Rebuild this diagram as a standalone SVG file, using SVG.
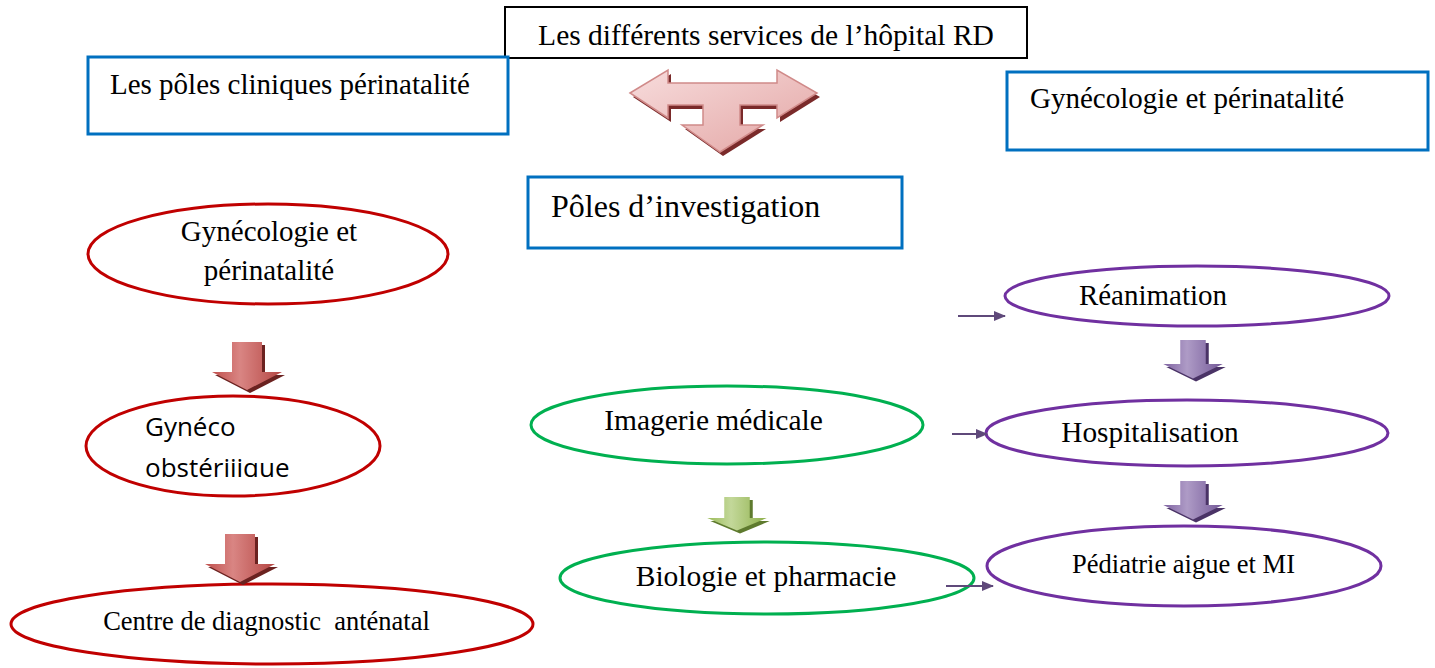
<svg xmlns="http://www.w3.org/2000/svg" width="1435" height="668" viewBox="0 0 1435 668">
<style>
.t{font-family:"Liberation Serif","Times New Roman",serif;fill:#000}
.s{font-family:"Open Sans","Liberation Sans",sans-serif;fill:#000}
.bb{fill:#fff;stroke:#0070C0;stroke-width:3}
.re{fill:#fff;stroke:#C00000;stroke-width:3}
.ge{fill:#fff;stroke:#00B050;stroke-width:3}
.pe{fill:#fff;stroke:#7030A0;stroke-width:3}
.sm{stroke:#5F497A;stroke-width:2;fill:none}
</style>
<defs>
<linearGradient id="gp" x1="0" y1="0" x2="1" y2="1"><stop offset="0" stop-color="#F7DCDC"/><stop offset="1" stop-color="#E3A5A4"/></linearGradient>
<linearGradient id="gr" x1="0" y1="0" x2="1" y2="0"><stop offset="0" stop-color="#C0504D"/><stop offset="0.4" stop-color="#D98583"/><stop offset="1" stop-color="#B54643"/></linearGradient>
<linearGradient id="gg" x1="0" y1="0" x2="1" y2="0"><stop offset="0" stop-color="#9BBB59"/><stop offset="0.4" stop-color="#C3D89A"/><stop offset="1" stop-color="#8EB04A"/></linearGradient>
<linearGradient id="gv" x1="0" y1="0" x2="1" y2="0"><stop offset="0" stop-color="#8064A2"/><stop offset="0.4" stop-color="#AE9BC6"/><stop offset="1" stop-color="#735897"/></linearGradient>
<marker id="ah" markerWidth="12" markerHeight="10" refX="11" refY="5" orient="auto" markerUnits="userSpaceOnUse" viewBox="0 0 12 10"><path d="M0,0 L12,5 L0,10 Z" fill="#5F497A"/></marker>
<path id="dn" d="M-15,0 H15 V30 H35 L0,48 L-35,30 H-15 Z"/>
<clipPath id="c2"><rect x="80" y="390" width="320" height="87"/></clipPath>
</defs>

<g id="title">
<rect x="505" y="7" width="522" height="51" fill="#fff" stroke="#000" stroke-width="2"/>
<text class="t" x="766" y="45" font-size="29.5" text-anchor="middle">Les différents services de l’hôpital RD</text>
</g>

<g id="poles-cliniques">
<rect class="bb" x="88" y="57" width="420" height="77"/>
<text class="t" x="110" y="94" font-size="29">Les pôles cliniques périnatalité</text>
</g>

<g id="gyneco-right">
<rect class="bb" x="1007" y="72" width="421" height="78"/>
<text class="t" x="1030" y="108" font-size="29">Gynécologie et périnatalité</text>
</g>

<g id="poles-investigation">
<rect class="bb" x="528" y="177" width="374" height="71"/>
<text class="t" x="551" y="217" font-size="32">Pôles d’investigation</text>
</g>

<g id="t-arrow">
<path d="M630,93 L668,70 V83 H777 V70 L817,93 L777,118 V105 H740 V125 H763 L720,152 L682,125 H703 V105 H668 V118 Z" fill="#7A2A2A" transform="translate(3,4)"/>
<path d="M630,93 L668,70 V83 H777 V70 L817,93 L777,118 V105 H740 V125 H763 L720,152 L682,125 H703 V105 H668 V118 Z" fill="url(#gp)" stroke="#D08A89" stroke-width="1.5"/>
</g>

<g id="gyneco-perinat">
<ellipse class="re" cx="268" cy="254" rx="180" ry="50"/>
<text class="t" x="269" y="241" font-size="29" text-anchor="middle">Gynécologie et</text>
<text class="t" x="269" y="280" font-size="29" text-anchor="middle">périnatalité</text>
</g>

<g id="gyneco-obst">
<ellipse class="re" cx="233" cy="446" rx="147" ry="50"/>
<g clip-path="url(#c2)">
<text class="s" x="145" y="436" font-size="26">Gynéco</text>
<text class="s" x="145" y="477" font-size="26">obstériiique</text>
</g>
</g>

<g id="centre-diag">
<ellipse class="re" cx="272" cy="624" rx="261" ry="40"/>
<text class="t" x="266.5" y="630" font-size="26.5" text-anchor="middle" xml:space="preserve">Centre de diagnostic  anténatal</text>
</g>

<g id="imagerie">
<ellipse class="ge" cx="727" cy="425" rx="196" ry="39"/>
<text class="t" x="713.5" y="430" font-size="29.5" text-anchor="middle">Imagerie médicale</text>
</g>

<g id="biologie">
<ellipse class="ge" cx="767" cy="578" rx="207" ry="36"/>
<text class="t" x="766" y="586" font-size="29.5" text-anchor="middle">Biologie et pharmacie</text>
</g>

<g id="reanimation">
<ellipse class="pe" cx="1197" cy="296" rx="192" ry="30"/>
<text class="t" x="1153" y="305" font-size="29" text-anchor="middle">Réanimation</text>
</g>

<g id="hospitalisation">
<ellipse class="pe" cx="1187" cy="433" rx="201" ry="33"/>
<text class="t" x="1150" y="442" font-size="29.3" text-anchor="middle">Hospitalisation</text>
</g>

<g id="pediatrie">
<ellipse class="pe" cx="1184" cy="566" rx="197" ry="40"/>
<text class="t" x="1183.5" y="573" font-size="26.5" text-anchor="middle">Pédiatrie aigue et MI</text>
</g>

<g id="connectors">
<g fill="#6B2220"><use href="#dn" transform="translate(250,345)"/><use href="#dn" transform="translate(243,537)"/></g>
<g fill="url(#gr)"><use href="#dn" transform="translate(247,342)"/><use href="#dn" transform="translate(240,534)"/></g>
<g fill="#5E7A2E"><use href="#dn" transform="translate(740,500) scale(0.85,0.7)"/></g>
<g fill="url(#gg)"><use href="#dn" transform="translate(737,497) scale(0.85,0.7)"/></g>
<g fill="#4A3366"><use href="#dn" transform="translate(1196,343) scale(0.85,0.8)"/><use href="#dn" transform="translate(1196,484) scale(0.85,0.8)"/></g>
<g fill="url(#gv)"><use href="#dn" transform="translate(1193,340) scale(0.85,0.8)"/><use href="#dn" transform="translate(1193,481) scale(0.85,0.8)"/></g>
<line class="sm" x1="958" y1="316" x2="1005" y2="316" marker-end="url(#ah)"/>
<line class="sm" x1="952" y1="434" x2="987" y2="434" marker-end="url(#ah)"/>
<line class="sm" x1="946" y1="586" x2="993" y2="586" marker-end="url(#ah)"/>
</g>
</svg>
